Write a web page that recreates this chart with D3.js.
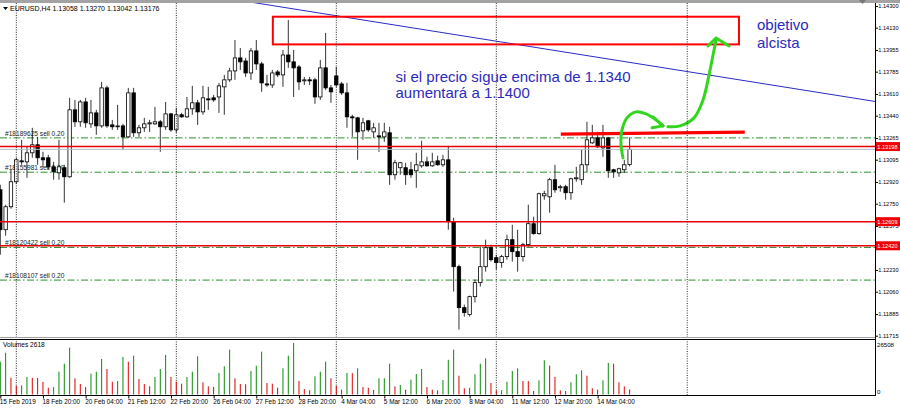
<!DOCTYPE html>
<html><head><meta charset="utf-8">
<script src="https://cdn.jsdelivr.net/npm/d3@7"></script>
<style>html,body{margin:0;padding:0;background:#fff;overflow:hidden}svg{display:block}</style>
</head><body><svg id="c" width="900" height="409"></svg>
<script>
// ---------- DATA ----------
const symbolTitle = "EURUSD,H4";
const open = [
1.12859,1.12546,1.12726,1.12922,1.13086,1.13078,1.13149,1.13212,1.13110,1.13110,
1.13039,1.12992,1.13032,1.12961,1.13486,1.13392,1.13548,1.13376,1.13462,1.13360,
1.13658,1.13368,1.13353,1.13360,1.13274,1.13619,1.13306,1.13345,1.13376,1.13376,
1.13392,1.13353,1.13454,1.13329,1.13447,1.13431,1.13494,1.13541,1.13470,1.13572,
1.13580,1.13587,1.13666,1.13721,1.13791,1.13893,1.13869,1.13775,1.13948,1.13846,
1.13689,1.13681,1.13783,1.13760,1.13916,1.13862,1.13822,1.13713,1.13721,1.13721,
1.13587,1.13815,1.13658,1.13752,1.13689,1.13619,1.13431,1.13423,1.13321,1.13400,
1.13313,1.13282,1.13274,1.13306,1.12977,1.13032,1.13032,1.13016,1.13008,1.13047,
1.13078,1.13047,1.13086,1.13055,1.13094,1.12609,1.12256,1.11935,1.11881,1.12021,
1.12131,1.12256,1.12405,1.12327,1.12288,1.12335,1.12468,1.12374,1.12335,1.12429,
1.12593,1.12515,1.12812,1.12804,1.12938,1.12875,1.12883,1.12836,1.12945,1.12938,
1.13055,1.13227,1.13266,1.13188,1.13266,1.13016,1.12992,1.13016,1.13058];
const high = [
1.12898,1.12742,1.13016,1.13110,1.13251,1.13196,1.13345,1.13274,1.13157,1.13133,
1.13078,1.13251,1.13055,1.13580,1.13564,1.13564,1.13580,1.13564,1.13486,1.13705,
1.13674,1.13407,1.13525,1.13376,1.13658,1.13658,1.13368,1.13423,1.13407,1.13509,
1.13407,1.13548,1.13462,1.13501,1.13462,1.13587,1.13674,1.13564,1.13674,1.13666,
1.13603,1.13697,1.13760,1.13815,1.14034,1.13971,1.13893,1.13971,1.14034,1.13862,
1.13760,1.13799,1.13799,1.13955,1.14190,1.13955,1.13838,1.13744,1.13744,1.13736,
1.13877,1.14089,1.13681,1.13822,1.13705,1.13697,1.13447,1.13431,1.13423,1.13407,
1.13384,1.13384,1.13384,1.13353,1.13094,1.13078,1.13071,1.13078,1.13149,1.13243,
1.13118,1.13149,1.13126,1.13133,1.13196,1.12640,1.12272,1.11959,1.12029,1.12155,
1.12413,1.12468,1.12429,1.12350,1.12350,1.12507,1.12585,1.12546,1.12444,1.12742,
1.12648,1.12836,1.12851,1.12953,1.13055,1.12898,1.12898,1.12953,1.13039,1.13172,
1.13392,1.13368,1.13313,1.13368,1.13274,1.13024,1.13032,1.13094,1.13270];
const low = [
1.12350,1.12499,1.12711,1.12906,1.13055,1.12953,1.13110,1.13055,1.13032,1.13016,
1.12938,1.12938,1.12758,1.12953,1.13353,1.13353,1.13345,1.13345,1.13290,1.13345,
1.13345,1.13329,1.13329,1.13172,1.13266,1.13274,1.13274,1.13313,1.13313,1.13368,
1.13157,1.13329,1.13313,1.13306,1.13423,1.13423,1.13447,1.13368,1.13447,1.13486,
1.13548,1.13462,1.13447,1.13705,1.13721,1.13799,1.13744,1.13721,1.13799,1.13627,
1.13666,1.13658,1.13744,1.13666,1.13815,1.13587,1.13642,1.13681,1.13681,1.13533,
1.13564,1.13642,1.13541,1.13666,1.13603,1.13345,1.13274,1.13094,1.13251,1.13313,
1.13266,1.13157,1.13235,1.12898,1.12938,1.12977,1.12898,1.12953,1.12875,1.13032,
1.13039,1.13039,1.13047,1.13039,1.12546,1.12061,1.11763,1.11865,1.11865,1.11975,
1.12100,1.12217,1.12296,1.12233,1.12249,1.12311,1.12296,1.12217,1.12296,1.12413,
1.12507,1.12507,1.12781,1.12679,1.12836,1.12844,1.12781,1.12781,1.12922,1.12898,
1.13000,1.13219,1.13188,1.13118,1.12953,1.12953,1.12961,1.12992,1.13042];
const close = [
1.12546,1.12726,1.12922,1.13094,1.13078,1.13149,1.13212,1.13110,1.13094,1.13039,
1.13000,1.13039,1.12961,1.13486,1.13392,1.13548,1.13384,1.13462,1.13360,1.13658,
1.13360,1.13353,1.13360,1.13274,1.13619,1.13306,1.13345,1.13376,1.13384,1.13392,
1.13353,1.13454,1.13329,1.13447,1.13431,1.13494,1.13541,1.13470,1.13580,1.13564,
1.13564,1.13674,1.13721,1.13791,1.13893,1.13862,1.13775,1.13948,1.13846,1.13697,
1.13681,1.13775,1.13760,1.13916,1.13862,1.13815,1.13705,1.13721,1.13713,1.13587,
1.13815,1.13658,1.13627,1.13681,1.13619,1.13431,1.13423,1.13313,1.13384,1.13329,
1.13345,1.13274,1.13313,1.12977,1.13071,1.13071,1.12977,1.12977,1.13055,1.13078,
1.13047,1.13078,1.13055,1.13094,1.12609,1.12256,1.11935,1.11896,1.12021,1.12131,
1.12256,1.12405,1.12311,1.12288,1.12335,1.12468,1.12374,1.12335,1.12429,1.12593,
1.12515,1.12828,1.12828,1.12938,1.12859,1.12883,1.12836,1.12945,1.12953,1.13055,
1.13251,1.13266,1.13196,1.13266,1.13008,1.13000,1.13024,1.13055,1.13176];
const volume = [
16890,21530,8650,4530,4700,9010,8650,8500,6440,3500,
3800,11740,15860,24100,8340,5410,3860,10710,11740,18280,
13130,6590,6950,19310,16890,19980,7980,5410,4220,9010,
13130,20340,9010,6590,5560,9010,11740,19670,6280,4220,
3860,11070,14520,23070,8340,5410,5300,12100,14830,22040,
5920,5560,3500,13490,19980,26508,6950,2830,2160,9370,
11740,16890,8340,4530,2470,11070,11000,13490,3860,3500,
2320,8340,8400,15860,4220,4890,2470,7620,10560,13130,
3860,2470,2160,7470,17870,23070,9680,3190,3500,10400,
15860,18640,5920,2160,2250,6590,12100,13490,6950,6900,
1800,7310,17610,14830,9010,2160,1800,6280,10400,12460,
9680,3190,2470,7310,16220,15860,6280,4220,2618];
const priceTicks = [1.14300,1.14130,1.13955,1.13785,1.13610,1.13440,1.13265,1.13095,1.12920,1.12750,1.12575,1.12405,1.12230,1.12060,1.11885,1.11715];
const volumeTicks = [0,26508];
const timeTickIdx = [0,8,16,24,32,40,48,56,64,72,80,88,96,104,112];
const timeTickLabels = ["15 Feb 2019","18 Feb 20:00","20 Feb 04:00","21 Feb 12:00","22 Feb 20:00","26 Feb 04:00","27 Feb 12:00","28 Feb 20:00","4 Mar 04:00","5 Mar 12:00","6 Mar 20:00","8 Mar 04:00","11 Mar 12:00","12 Mar 20:00","14 Mar 04:00"];
const separatorIdx = [3,33,63,93,128.8];
const orderLevels = [1.13266,1.12997,1.12407,1.12151];
const orderLabels = ["#18189625 sell 0.20","#18155981 sell 0.20","#18120422 sell 0.20","#18108107 sell 0.20"];
const redLevels = [1.13198,1.12609,1.12420];
const bidPrice = 1.13176;
const trendIdx = [56.2,157.5], trendPrice = [1.14269,1.13595];
const boxIdx = [51.1,138.5], boxPrice = [1.14216,1.13999];
const markIdx = [105.1,139.6], markPrice = [1.13295,1.13311];
const arrow1Idx = [116.76,116.38,116.57,117.51,119.20,121.07,122.95,124.26];
const arrow1Price = [1.13110,1.13212,1.13329,1.13423,1.13470,1.13454,1.13407,1.13360];
const head1Idx = [122.38,124.26,122.20], head1Price = [1.13431,1.13360,1.13345];
const arrow2Idx = [125.2,127.45,130.07,131.76,132.89,133.64,134.2];
const arrow2Price = [1.13353,1.13360,1.13423,1.13564,1.13760,1.13916,1.14034];
const head2Idx = [132.70,134.2,136.64], head2Price = [1.13987,1.14049,1.13987];
const noteLines = ["si el precio sigue encima de 1.1340","aumentará a 1.1400"];
const targetLines = ["objetivo","alcista"];

// ---------- SCALES ----------
const svg = d3.select("#c");
const FONT = "'Liberation Sans', Arial, sans-serif";
const x = d3.scaleLinear().domain([0,164]).range([0.3, 0.3+164*16/3]);
const y = d3.scaleLinear().domain([1.11715,1.14300]).range([335.7,6]);
const yv = d3.scaleLinear().domain([0,26508]).range([394.5,343]);
const AX = 875;

svg.append("rect").attr("width",900).attr("height",409).attr("fill","#fff");
svg.append("rect").attr("x",0).attr("y",0).attr("width",900).attr("height",3).attr("fill","#a3a3a3");

const defs = svg.append("defs");
defs.append("clipPath").attr("id","pc").append("rect").attr("x",0).attr("y",3).attr("width",AX).attr("height",334);

const main = svg.append("g").attr("clip-path","url(#pc)");

// separators
svg.append("g").selectAll("line").data(separatorIdx).join("line")
  .attr("x1",d=>x(d)).attr("x2",d=>x(d)).attr("y1",3).attr("y2",395)
  .attr("stroke","#111").attr("stroke-width",0.9).attr("stroke-dasharray","1,1.4");

// order lines
main.append("g").selectAll("line").data(orderLevels).join("line")
  .attr("x1",0).attr("x2",AX).attr("y1",d=>y(d)).attr("y2",d=>y(d))
  .attr("stroke","#2f8f2f").attr("stroke-width",1).attr("stroke-dasharray","7,2.5,1.5,2.5");
main.append("g").selectAll("text").data(orderLevels).join("text")
  .attr("x",5).attr("y",d=>y(d)-2).text((d,k)=>orderLabels[k])
  .attr("font-family",FONT).attr("font-size",6.6).attr("fill","#222");

// candles
const idx = d3.range(open.length);
const cg = main.append("g");
cg.selectAll("line").data(idx).join("line")
  .attr("x1",i=>x(i)).attr("x2",i=>x(i)).attr("y1",i=>y(high[i])).attr("y2",i=>y(low[i]))
  .attr("stroke","#000").attr("stroke-width",0.8);
cg.selectAll("rect").data(idx).join("rect")
  .attr("x",i=>x(i)-1.7).attr("width",3.4)
  .attr("y",i=>y(Math.max(open[i],close[i])))
  .attr("height",i=>Math.max(0.8, Math.abs(y(open[i])-y(close[i]))))
  .attr("fill",i=>close[i]>=open[i]?"#fff":"#000")
  .attr("stroke","#000").attr("stroke-width",0.8);

// red levels & bid
main.append("line").attr("x1",0).attr("x2",AX).attr("y1",y(bidPrice)).attr("y2",y(bidPrice))
  .attr("stroke","#aebdcc").attr("stroke-width",1);
main.append("g").selectAll("line").data(redLevels).join("line")
  .attr("x1",0).attr("x2",AX).attr("y1",d=>y(d)).attr("y2",d=>y(d))
  .attr("stroke","#e60000").attr("stroke-width",1.5);

// trendline (ray across the price panel)
{
  const s=(y(trendPrice[1])-y(trendPrice[0]))/(x(trendIdx[1])-x(trendIdx[0]));
  const x0=x(trendIdx[0]), y0=y(trendPrice[0]);
  main.append("line").attr("x1",x0-60).attr("y1",y0-60*s).attr("x2",AX).attr("y2",y0+(AX-x0)*s)
    .attr("stroke","#2a2ac4").attr("stroke-width",1);
}

// rectangle
main.append("rect").attr("x",x(boxIdx[0])).attr("y",y(boxPrice[0]))
  .attr("width",x(boxIdx[1])-x(boxIdx[0])).attr("height",y(boxPrice[1])-y(boxPrice[0]))
  .attr("fill","none").attr("stroke","#f00").attr("stroke-width",2);

// hand-drawn red mark
main.append("line").attr("x1",x(markIdx[0])).attr("y1",y(markPrice[0]))
  .attr("x2",x(markIdx[1])).attr("y2",y(markPrice[1]))
  .attr("stroke","#f00").attr("stroke-width",3.2);

// green arrows
const gl = d3.line().curve(d3.curveCatmullRom.alpha(0.5));
const gstyle = s=>s.attr("fill","none").attr("stroke","#33d61e").attr("stroke-width",3).attr("stroke-linecap","round").attr("stroke-linejoin","round");
main.append("path").attr("d",gl(arrow1Idx.map((d,k)=>[x(d),y(arrow1Price[k])]))).call(gstyle);
main.append("path").attr("d",d3.line()(head1Idx.map((d,k)=>[x(d),y(head1Price[k])]))).call(gstyle);
main.append("path").attr("d",gl(arrow2Idx.map((d,k)=>[x(d),y(arrow2Price[k])]))).call(gstyle);
main.append("path").attr("d",d3.line()(head2Idx.map((d,k)=>[x(d),y(head2Price[k])]))).call(gstyle);

// notes
const BLUE="#2b2bbd";
svg.append("g").selectAll("text").data(noteLines).join("text")
  .attr("x",395.5).attr("y",(d,k)=>82.3+k*16).text(d=>d)
  .attr("font-family",FONT).attr("font-size",15).attr("fill",BLUE);
svg.append("g").selectAll("text").data(targetLines).join("text")
  .attr("x",757).attr("y",(d,k)=>30+k*18).text(d=>d)
  .attr("font-family",FONT).attr("font-size",15).attr("fill",BLUE);

// header
svg.append("path").attr("d","M3,7L8,7L5.5,10Z").attr("fill","#000");
svg.append("text").attr("x",10).attr("y",10.5)
  .text(`${symbolTitle} ${open[118].toFixed(5)} ${high[118].toFixed(5)} ${low[118].toFixed(5)} ${close[118].toFixed(5)}`)
  .attr("font-family",FONT).attr("font-size",7).attr("fill","#000");

// volume bars
const vg = svg.append("g");
vg.selectAll("line").data(idx).join("line")
  .attr("x1",i=>x(i)).attr("x2",i=>x(i)).attr("y1",yv(0)).attr("y2",i=>yv(volume[i]))
  .attr("stroke",i=>(i===0||volume[i]>volume[i-1])?"#0a8a0a":"#e00000").attr("stroke-width",1);
svg.append("text").attr("x",3).attr("y",347).text("Volumes "+volume[volume.length-1])
  .attr("font-family",FONT).attr("font-size",6.6).attr("fill","#000");

// panel borders
svg.append("line").attr("x1",0).attr("x2",AX).attr("y1",337.5).attr("y2",337.5).attr("stroke","#a0a0a0").attr("stroke-width",1.2);
svg.append("line").attr("x1",0).attr("x2",AX).attr("y1",339.5).attr("y2",339.5).attr("stroke","#000").attr("stroke-width",1);
svg.append("line").attr("x1",0).attr("x2",AX+0.5).attr("y1",395.5).attr("y2",395.5).attr("stroke","#000").attr("stroke-width",1);
svg.append("line").attr("x1",AX+0.5).attr("x2",AX+0.5).attr("y1",3).attr("y2",396).attr("stroke","#000").attr("stroke-width",1);

// price axis
const pa = svg.append("g").attr("transform",`translate(${AX+0.5},0)`)
  .call(d3.axisRight(y).tickValues(priceTicks).tickFormat(d3.format(".5f")).tickSize(2.5).tickPadding(0.3));
pa.select(".domain").remove();
pa.selectAll("text").attr("font-family",FONT).attr("font-size",5.8).attr("fill","#000")
  .attr("textLength",20.3).attr("lengthAdjust","spacingAndGlyphs");
pa.selectAll("line").attr("stroke","#000");

// red tags
const tg = svg.append("g").selectAll("g").data(redLevels).join("g");
tg.append("rect").attr("x",AX+1).attr("y",d=>y(d)-4.5).attr("width",25).attr("height",9).attr("fill","#f00000");
tg.append("text").attr("x",AX+2.3).attr("y",d=>y(d)+2.3).text(d=>d.toFixed(5))
  .attr("font-family",FONT).attr("font-size",5.8).attr("fill","#fff")
  .attr("textLength",20.3).attr("lengthAdjust","spacingAndGlyphs");

// volume axis
const va = svg.append("g").attr("transform",`translate(${AX+0.5},0)`)
  .call(d3.axisRight(yv).tickValues(volumeTicks).tickFormat(d3.format("d")).tickSize(0).tickPadding(1.5));
va.select(".domain").remove();
va.selectAll("text").attr("font-family",FONT).attr("font-size",6.2).attr("fill","#000")
  .attr("dy",(d)=>d===0?"-0.1em":"0.6em")
  .each(function(d){ if(d>0) d3.select(this).attr("textLength",17).attr("lengthAdjust","spacingAndGlyphs"); });

// time axis
const ta = svg.append("g").attr("transform","translate(0,395.5)")
  .call(d3.axisBottom(x).tickValues(timeTickIdx).tickFormat((d,k)=>timeTickLabels[k]).tickSize(3).tickPadding(1));
ta.select(".domain").remove();
ta.selectAll("line").attr("stroke","#000");
ta.selectAll("text").attr("text-anchor","start").attr("x",-1).attr("font-family",FONT).attr("font-size",6.4).attr("fill","#000");

// shift marker
svg.append("path").attr("d","M859,0L866,0L862.5,4Z").attr("fill","#777");
</script></body></html>
